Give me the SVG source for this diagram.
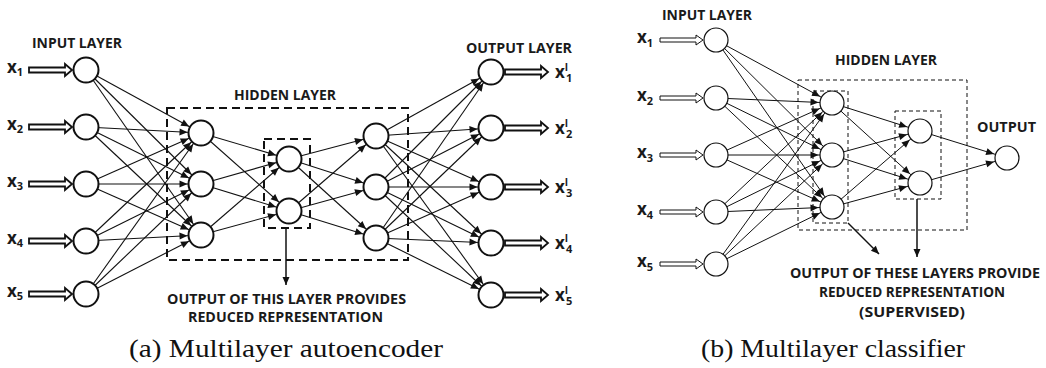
<svg xmlns="http://www.w3.org/2000/svg" xmlns:xlink="http://www.w3.org/1999/xlink" width="1046" height="368" viewBox="0 0 1046 368">
<style>
.lbl{font-family:"Open Sans","Liberation Sans",sans-serif;font-weight:700;font-size:15px;fill:#1a1a1a}
.var{font-family:"Open Sans","Liberation Sans",sans-serif;font-weight:700;font-size:17px;fill:#1a1a1a}
.sub{font-size:11px}
.sup{font-size:10px}
.cap{font-family:"Liberation Serif","DejaVu Serif",serif;font-size:26px;fill:#111}
.nodeL{fill:#fff;stroke:#111;stroke-width:2}
.nodeR{fill:#fff;stroke:#111;stroke-width:1.2}
.edgeL line{stroke:#111;stroke-width:1.1;marker-end:url(#ah)}
.edgeR line{stroke:#111;stroke-width:1;marker-end:url(#ah)}
.boxL{fill:none;stroke:#111;stroke-width:2;stroke-dasharray:8 5}
.boxR{fill:none;stroke:#111;stroke-width:1;stroke-dasharray:4 3}
.bigA{fill:#fff;stroke:#111;stroke-width:1.8}
.smA{fill:#fff;stroke:#111;stroke-width:1}
.ann{stroke:#111;stroke-width:1.5;fill:none;marker-end:url(#ah2)}
</style>
<defs>
<marker id="ah" markerUnits="userSpaceOnUse" markerWidth="1" markerHeight="1" refX="0" refY="0" orient="auto" overflow="visible">
<path d="M-21.5,-3.5 L-13.5,0 L-21.5,3.5 Z" fill="#111"/>
</marker>
<marker id="ah2" markerUnits="userSpaceOnUse" markerWidth="1" markerHeight="1" refX="0" refY="0" orient="auto" overflow="visible">
<path d="M-8,-3.5 L0,0 L-8,3.5 Z" fill="#111"/>
</marker>
<path id="bigArrow" d="M0,-2.5 H36 V-6 L43,0 L36,6 V2.5 H0 Z"/>
<path id="smArrow" d="M0,-2 H36 V-5 L43,0 L36,5 V2 H0 Z"/>
</defs>

<!-- ===== (a) Multilayer autoencoder ===== -->
<g id="a-boxes">
<rect class="boxL" x="167" y="108" width="241" height="152"/>
<rect class="boxL" x="264" y="139" width="46" height="89"/>
</g>
<g id="a-connectors" class="edgeL">
<line x1="86" y1="70" x2="201" y2="133"/><line x1="86" y1="70" x2="201" y2="184"/><line x1="86" y1="70" x2="201" y2="235"/>
<line x1="86" y1="127" x2="201" y2="133"/><line x1="86" y1="127" x2="201" y2="184"/><line x1="86" y1="127" x2="201" y2="235"/>
<line x1="86" y1="184" x2="201" y2="133"/><line x1="86" y1="184" x2="201" y2="184"/><line x1="86" y1="184" x2="201" y2="235"/>
<line x1="86" y1="241" x2="201" y2="133"/><line x1="86" y1="241" x2="201" y2="184"/><line x1="86" y1="241" x2="201" y2="235"/>
<line x1="86" y1="294" x2="201" y2="133"/><line x1="86" y1="294" x2="201" y2="184"/><line x1="86" y1="294" x2="201" y2="235"/>
<line x1="201" y1="133" x2="289" y2="159"/><line x1="201" y1="133" x2="289" y2="211"/>
<line x1="201" y1="184" x2="289" y2="159"/><line x1="201" y1="184" x2="289" y2="211"/>
<line x1="201" y1="235" x2="289" y2="159"/><line x1="201" y1="235" x2="289" y2="211"/>
<line x1="289" y1="159" x2="376" y2="136"/><line x1="289" y1="159" x2="376" y2="187"/><line x1="289" y1="159" x2="376" y2="238"/>
<line x1="289" y1="211" x2="376" y2="136"/><line x1="289" y1="211" x2="376" y2="187"/><line x1="289" y1="211" x2="376" y2="238"/>
<line x1="376" y1="136" x2="491" y2="72"/><line x1="376" y1="136" x2="491" y2="128"/><line x1="376" y1="136" x2="491" y2="187"/><line x1="376" y1="136" x2="491" y2="243"/><line x1="376" y1="136" x2="491" y2="295"/>
<line x1="376" y1="187" x2="491" y2="72"/><line x1="376" y1="187" x2="491" y2="128"/><line x1="376" y1="187" x2="491" y2="187"/><line x1="376" y1="187" x2="491" y2="243"/><line x1="376" y1="187" x2="491" y2="295"/>
<line x1="376" y1="238" x2="491" y2="72"/><line x1="376" y1="238" x2="491" y2="128"/><line x1="376" y1="238" x2="491" y2="187"/><line x1="376" y1="238" x2="491" y2="243"/><line x1="376" y1="238" x2="491" y2="295"/>
</g>
<g id="a-io-arrows">
<use xlink:href="#bigArrow" class="bigA" x="29" y="70"/>
<use xlink:href="#bigArrow" class="bigA" x="29" y="127"/>
<use xlink:href="#bigArrow" class="bigA" x="29" y="184"/>
<use xlink:href="#bigArrow" class="bigA" x="29" y="241"/>
<use xlink:href="#bigArrow" class="bigA" x="29" y="294"/>
<use xlink:href="#bigArrow" class="bigA" x="505" y="72"/>
<use xlink:href="#bigArrow" class="bigA" x="505" y="128"/>
<use xlink:href="#bigArrow" class="bigA" x="505" y="187"/>
<use xlink:href="#bigArrow" class="bigA" x="505" y="243"/>
<use xlink:href="#bigArrow" class="bigA" x="505" y="295"/>
<line class="ann" x1="286" y1="228" x2="286" y2="285"/>
</g>
<g id="a-in1"><circle class="nodeL" cx="86" cy="70" r="12.5"/><text class="var" x="7" y="73">x<tspan class="sub" dy="3">1</tspan></text></g>
<g id="a-in2"><circle class="nodeL" cx="86" cy="127" r="12.5"/><text class="var" x="7" y="130">x<tspan class="sub" dy="3">2</tspan></text></g>
<g id="a-in3"><circle class="nodeL" cx="86" cy="184" r="12.5"/><text class="var" x="7" y="187">x<tspan class="sub" dy="3">3</tspan></text></g>
<g id="a-in4"><circle class="nodeL" cx="86" cy="241" r="12.5"/><text class="var" x="7" y="244">x<tspan class="sub" dy="3">4</tspan></text></g>
<g id="a-in5"><circle class="nodeL" cx="86" cy="294" r="12.5"/><text class="var" x="7" y="297">x<tspan class="sub" dy="3">5</tspan></text></g>
<g id="a-h1a"><circle class="nodeL" cx="201" cy="133" r="12.5"/></g>
<g id="a-h1b"><circle class="nodeL" cx="201" cy="184" r="12.5"/></g>
<g id="a-h1c"><circle class="nodeL" cx="201" cy="235" r="12.5"/></g>
<g id="a-h2a"><circle class="nodeL" cx="289" cy="159" r="12.5"/></g>
<g id="a-h2b"><circle class="nodeL" cx="289" cy="211" r="12.5"/></g>
<g id="a-h3a"><circle class="nodeL" cx="376" cy="136" r="12.5"/></g>
<g id="a-h3b"><circle class="nodeL" cx="376" cy="187" r="12.5"/></g>
<g id="a-h3c"><circle class="nodeL" cx="376" cy="238" r="12.5"/></g>
<g id="a-out1"><circle class="nodeL" cx="491" cy="72" r="12.5"/><text class="var" x="555" y="78">x<tspan class="sup" dy="-7">I</tspan><tspan class="sub" x="566" dy="11">1</tspan></text></g>
<g id="a-out2"><circle class="nodeL" cx="491" cy="128" r="12.5"/><text class="var" x="555" y="134">x<tspan class="sup" dy="-7">I</tspan><tspan class="sub" x="566" dy="11">2</tspan></text></g>
<g id="a-out3"><circle class="nodeL" cx="491" cy="187" r="12.5"/><text class="var" x="555" y="193">x<tspan class="sup" dy="-7">I</tspan><tspan class="sub" x="566" dy="11">3</tspan></text></g>
<g id="a-out4"><circle class="nodeL" cx="491" cy="243" r="12.5"/><text class="var" x="555" y="249">x<tspan class="sup" dy="-7">I</tspan><tspan class="sub" x="566" dy="11">4</tspan></text></g>
<g id="a-out5"><circle class="nodeL" cx="491" cy="295" r="12.5"/><text class="var" x="555" y="301">x<tspan class="sup" dy="-7">I</tspan><tspan class="sub" x="566" dy="11">5</tspan></text></g>
<g id="a-labels">
<text class="lbl" x="32" y="48" textLength="90" lengthAdjust="spacingAndGlyphs">INPUT LAYER</text>
<text class="lbl" x="234" y="100" textLength="102" lengthAdjust="spacingAndGlyphs">HIDDEN LAYER</text>
<text class="lbl" x="466" y="53" textLength="106" lengthAdjust="spacingAndGlyphs">OUTPUT LAYER</text>
<text class="lbl" x="167" y="304" textLength="239" lengthAdjust="spacingAndGlyphs">OUTPUT OF THIS LAYER PROVIDES</text>
<text class="lbl" x="188" y="322" textLength="195" lengthAdjust="spacingAndGlyphs">REDUCED REPRESENTATION</text>
<text class="cap" x="129" y="357" textLength="314" lengthAdjust="spacingAndGlyphs">(a) Multilayer autoencoder</text>
</g>

<!-- ===== (b) Multilayer classifier ===== -->
<g id="b-boxes">
<rect class="boxR" x="798" y="80" width="169" height="150"/>
<rect class="boxR" x="813" y="91" width="35" height="132"/>
<rect class="boxR" x="895" y="111" width="46" height="88"/>
</g>
<g id="b-connectors" class="edgeR">
<line x1="716" y1="40" x2="832" y2="103"/><line x1="716" y1="40" x2="832" y2="155"/><line x1="716" y1="40" x2="832" y2="207"/>
<line x1="716" y1="98" x2="832" y2="103"/><line x1="716" y1="98" x2="832" y2="155"/><line x1="716" y1="98" x2="832" y2="207"/>
<line x1="716" y1="155" x2="832" y2="103"/><line x1="716" y1="155" x2="832" y2="155"/><line x1="716" y1="155" x2="832" y2="207"/>
<line x1="716" y1="212" x2="832" y2="103"/><line x1="716" y1="212" x2="832" y2="155"/><line x1="716" y1="212" x2="832" y2="207"/>
<line x1="716" y1="264" x2="832" y2="103"/><line x1="716" y1="264" x2="832" y2="155"/><line x1="716" y1="264" x2="832" y2="207"/>
<line x1="832" y1="103" x2="920" y2="131"/><line x1="832" y1="103" x2="920" y2="183"/>
<line x1="832" y1="155" x2="920" y2="131"/><line x1="832" y1="155" x2="920" y2="183"/>
<line x1="832" y1="207" x2="920" y2="131"/><line x1="832" y1="207" x2="920" y2="183"/>
<line x1="920" y1="131" x2="1007" y2="158"/><line x1="920" y1="183" x2="1007" y2="158"/>
</g>
<g id="b-io-arrows">
<use xlink:href="#smArrow" class="smA" x="660" y="40"/>
<use xlink:href="#smArrow" class="smA" x="660" y="98"/>
<use xlink:href="#smArrow" class="smA" x="660" y="155"/>
<use xlink:href="#smArrow" class="smA" x="660" y="212"/>
<use xlink:href="#smArrow" class="smA" x="660" y="264"/>
<line class="ann" x1="848" y1="223" x2="879" y2="254"/>
<line class="ann" x1="917" y1="199" x2="917" y2="257"/>
</g>
<g id="b-in1"><circle class="nodeR" cx="716" cy="40" r="12"/><text class="var" x="637" y="43">x<tspan class="sub" dy="4">1</tspan></text></g>
<g id="b-in2"><circle class="nodeR" cx="716" cy="98" r="12"/><text class="var" x="637" y="101">x<tspan class="sub" dy="4">2</tspan></text></g>
<g id="b-in3"><circle class="nodeR" cx="716" cy="155" r="12"/><text class="var" x="637" y="158">x<tspan class="sub" dy="4">3</tspan></text></g>
<g id="b-in4"><circle class="nodeR" cx="716" cy="212" r="12"/><text class="var" x="637" y="215">x<tspan class="sub" dy="4">4</tspan></text></g>
<g id="b-in5"><circle class="nodeR" cx="716" cy="264" r="12"/><text class="var" x="637" y="267">x<tspan class="sub" dy="4">5</tspan></text></g>
<g id="b-h1a"><circle class="nodeR" cx="832" cy="103" r="12"/></g>
<g id="b-h1b"><circle class="nodeR" cx="832" cy="155" r="12"/></g>
<g id="b-h1c"><circle class="nodeR" cx="832" cy="207" r="12"/></g>
<g id="b-h2a"><circle class="nodeR" cx="920" cy="131" r="12"/></g>
<g id="b-h2b"><circle class="nodeR" cx="920" cy="183" r="12"/></g>
<g id="b-out"><circle class="nodeR" cx="1007" cy="158" r="12"/></g>
<g id="b-labels">
<text class="lbl" x="662" y="20" textLength="90" lengthAdjust="spacingAndGlyphs">INPUT LAYER</text>
<text class="lbl" x="835" y="65" textLength="102" lengthAdjust="spacingAndGlyphs">HIDDEN LAYER</text>
<text class="lbl" x="977" y="132" textLength="59" lengthAdjust="spacingAndGlyphs">OUTPUT</text>
<text class="lbl" x="790" y="278" textLength="250" lengthAdjust="spacingAndGlyphs">OUTPUT OF THESE LAYERS PROVIDE</text>
<text class="lbl" x="819" y="297" textLength="186" lengthAdjust="spacingAndGlyphs">REDUCED REPRESENTATION</text>
<text class="lbl" x="859" y="317" textLength="106" lengthAdjust="spacingAndGlyphs">(SUPERVISED)</text>
<text class="cap" x="701" y="357" textLength="264" lengthAdjust="spacingAndGlyphs">(b) Multilayer classifier</text>
</g>
</svg>
